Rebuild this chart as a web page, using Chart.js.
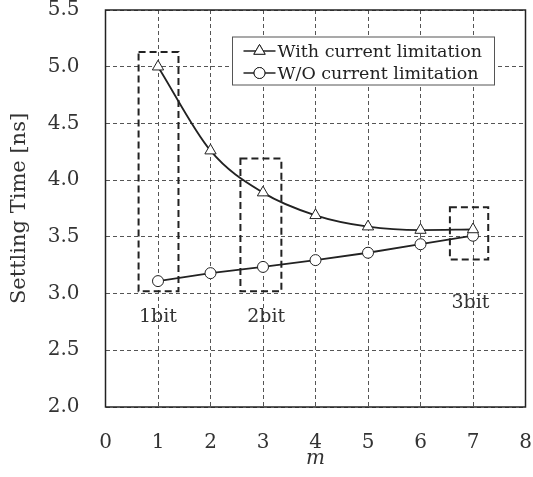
<!DOCTYPE html>
<html lang="en">
<head>
    <meta charset="UTF-8">
    <title>Settling Time vs m</title>
    <script src="https://cdn.jsdelivr.net/npm/chart.js"></script>
    <style>
        * { margin: 0; padding: 0; box-sizing: border-box; }
        body { background: #fff; width: 533px; height: 477px; overflow: hidden; }
        canvas { display: block; }
    </style>
</head>
<body>
    <canvas id="chart" width="533" height="477"></canvas>

    <script>
        // Data
        const mValues = [1, 2, 3, 4, 5, 6, 7];
        const withLimit = [5.00, 4.26, 3.89, 3.69, 3.59, 3.56, 3.565];
        const withoutLimit = [3.11, 3.18, 3.235, 3.295, 3.36, 3.435, 3.51];
        const seriesNames = ['With current limitation', 'W/O current limitation'];

        // dashed boxes marking the bit groups (data units)
        const bitLabels = ['1bit', '2bit', '3bit'];
        const bitLabelX = [1.0, 3.06, 6.95];
        const bitLabelY = [2.79, 2.79, 2.92];
        const boxLeft = [0.63, 2.57, 6.56];
        const boxRight = [1.39, 3.35, 7.29];
        const boxBottom = [3.02, 3.02, 3.30];
        const boxTop = [5.13, 4.19, 3.76];

        const SERIF = "'DejaVu Serif', serif";
        const INK = '#222';

        const toPoints = ys => mValues.map((m, i) => ({ x: m, y: ys[i] }));

        // boxes + bit labels, frame and legend
        const extras = {
            id: 'extras',
            beforeDatasetsDraw(chart) {
                const { ctx, scales: { x, y } } = chart;
                ctx.save();
                ctx.setLineDash([7, 4]);
                ctx.lineWidth = 2;
                ctx.strokeStyle = INK;
                bitLabels.forEach((_, i) => {
                    const x0 = x.getPixelForValue(boxLeft[i]);
                    const x1 = x.getPixelForValue(boxRight[i]);
                    const y0 = y.getPixelForValue(boxTop[i]);
                    const y1 = y.getPixelForValue(boxBottom[i]);
                    ctx.strokeRect(x0, y0, x1 - x0, y1 - y0);
                });
                ctx.setLineDash([]);
                ctx.fillStyle = '#333';
                ctx.font = '19px ' + SERIF;
                ctx.textAlign = 'center';
                ctx.textBaseline = 'middle';
                bitLabels.forEach((t, i) => {
                    ctx.fillText(t, x.getPixelForValue(bitLabelX[i]), y.getPixelForValue(bitLabelY[i]));
                });
                ctx.restore();
            },
            afterDraw(chart) {
                const { ctx, chartArea: a } = chart;
                ctx.save();
                // plot frame
                ctx.lineWidth = 1.5;
                ctx.strokeStyle = INK;
                ctx.strokeRect(a.left, a.top, a.right - a.left, a.bottom - a.top);

                // legend
                const w = 262, h = 48;
                const lx = a.right - 31 - w, ly = a.top + 27;
                ctx.fillStyle = '#fff';
                ctx.fillRect(lx, ly, w, h);
                ctx.lineWidth = 1;
                ctx.strokeStyle = '#555';
                ctx.strokeRect(lx, ly, w, h);
                ctx.font = '17.5px ' + SERIF;
                ctx.textBaseline = 'middle';
                ctx.textAlign = 'left';
                chart.data.datasets.forEach((ds, i) => {
                    const cy = ly + 14 + i * 22;
                    ctx.strokeStyle = INK;
                    ctx.lineWidth = 1.5;
                    ctx.beginPath();
                    ctx.moveTo(lx + 11, cy);
                    ctx.lineTo(lx + 43, cy);
                    ctx.stroke();
                    ctx.fillStyle = '#fff';
                    ctx.lineWidth = 1;
                    Chart.helpers.drawPoint(ctx, {
                        pointStyle: ds.pointStyle, radius: ds.pointRadius,
                        borderWidth: 1, rotation: 0
                    }, lx + 27, cy);
                    ctx.fill();
                    ctx.stroke();
                    ctx.fillStyle = '#222';
                    ctx.fillText(ds.label, lx + 45, cy + 1);
                });
                ctx.restore();
            }
        };

        const gridStyle = { color: '#555', lineWidth: 1, drawTicks: false };

        new Chart(document.getElementById('chart'), {
            type: 'line',
            data: {
                datasets: [
                    {
                        label: seriesNames[0],
                        data: toPoints(withLimit),
                        borderColor: INK,
                        borderWidth: 1.8,
                        backgroundColor: '#fff',
                        pointStyle: 'triangle',
                        pointRadius: 6.5,
                        pointBorderWidth: 1,
                        pointBorderColor: INK,
                        pointBackgroundColor: '#fff',
                        cubicInterpolationMode: 'monotone'
                    },
                    {
                        label: seriesNames[1],
                        data: toPoints(withoutLimit),
                        borderColor: INK,
                        borderWidth: 1.8,
                        backgroundColor: '#fff',
                        pointStyle: 'circle',
                        pointRadius: 5.5,
                        pointBorderWidth: 1,
                        pointBorderColor: INK,
                        pointBackgroundColor: '#fff'
                    }
                ]
            },
            options: {
                responsive: false,
                animation: false,
                layout: { padding: { top: 10, right: 6.5, left: 0, bottom: 0 } },
                plugins: { legend: { display: false }, tooltip: { enabled: false } },
                scales: {
                    x: {
                        type: 'linear',
                        min: 0,
                        max: 8,
                        ticks: { stepSize: 1, padding: 24, color: '#333', font: { family: SERIF, size: 20, lineHeight: 1.2 } },
                        grid: gridStyle,
                        border: { display: false, dash: [4, 3] },
                        title: {
                            display: true,
                            text: 'm',
                            color: '#333',
                            padding: { top: 0, bottom: 6 },
                            font: { family: SERIF, size: 20, style: 'italic', lineHeight: 1.2 }
                        },
                        afterFit: s => {
                            s.height = 70;
                            s.paddingLeft = 0;
                            s.paddingRight = 0;
                        }
                    },
                    y: {
                        min: 2.0,
                        max: 5.5,
                        ticks: {
                            stepSize: 0.5,
                            padding: 26,
                            color: '#333',
                            font: { family: SERIF, size: 20, lineHeight: 1.2 },
                            callback: v => v.toFixed(1)
                        },
                        grid: gridStyle,
                        border: { display: false, dash: [4, 3] },
                        title: {
                            display: true,
                            text: 'Settling Time [ns]',
                            color: '#333',
                            padding: { top: 7, bottom: 0 },
                            font: { family: SERIF, size: 21, lineHeight: 1.2 }
                        },
                        afterFit: s => {
                            s.width = 105.5;
                            s.paddingTop = 0;
                            s.paddingBottom = 0;
                        }
                    }
                }
            },
            plugins: [extras]
        });
    </script>
</body>
</html>
